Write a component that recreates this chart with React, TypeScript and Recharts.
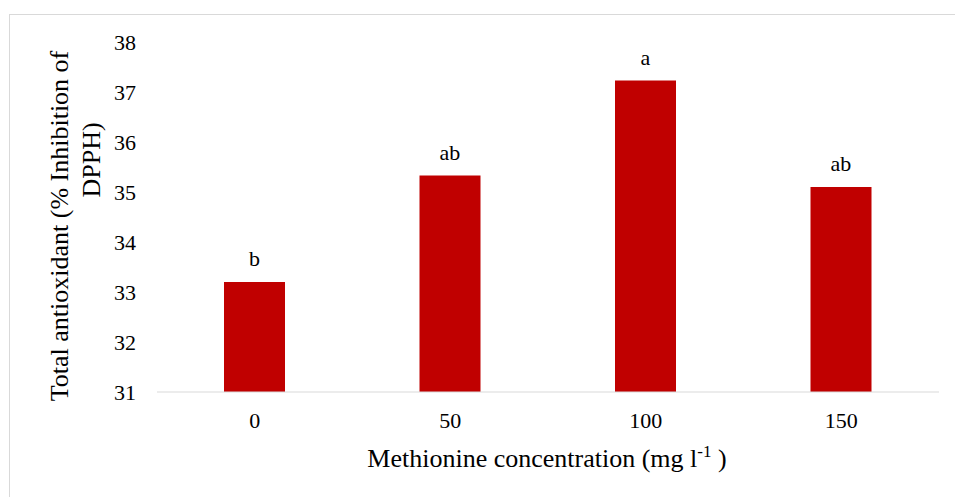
import { BarChart, Bar, XAxis, YAxis, LabelList } from 'recharts'

// ── Data ─────────────────────────────────────────────────
const concentrations = ['0', '50', '100', '150']
const antioxidant = [33.2, 35.33, 37.23, 35.1]
const letters = ['b', 'ab', 'a', 'ab']
const yTicks = [31, 32, 33, 34, 35, 36, 37, 38]

const data = concentrations.map((c, i) => ({
  conc: c,
  value: antioxidant[i],
  letter: letters[i],
}))

const FONT = '"Liberation Serif", "Times New Roman", serif'
const RED = '#c00000'
const GRID = '#d9d9d9'

function XTitle() {
  return (
    <text x={547} y={467} textAnchor="middle" fontFamily={FONT} fontSize={26} fill="#000">
      Methionine concentration (mg l
      <tspan fontSize={17} dy={-10}>-1</tspan>
      <tspan dy={10}> )</tspan>
    </text>
  )
}

function YTitle() {
  return (
    <g fontFamily={FONT} fontSize={26} fill="#000">
      <text x={0} y={0} textAnchor="middle" transform="translate(68 226) rotate(-90)">
        Total antioxidant (% Inhibition of
      </text>
      <text x={0} y={0} textAnchor="middle" transform="translate(100 160) rotate(-90)">
        DPPH)
      </text>
    </g>
  )
}

function XTick(props: any) {
  const { x, y, payload } = props
  return (
    <text x={x} y={y} dy={15} textAnchor="middle" fontFamily={FONT} fontSize={22} fill="#000">
      {payload.value}
    </text>
  )
}

function YTick(props: any) {
  const { x, y, payload } = props
  return (
    <text x={x} y={y} dy={7.5} textAnchor="end" fontFamily={FONT} fontSize={22} fill="#000">
      {payload.value}
    </text>
  )
}

function LetterLabel(props: any) {
  const { x, y, width, value } = props
  return (
    <text x={x + width / 2} y={y - 16} textAnchor="middle" fontFamily={FONT} fontSize={22} fill="#000">
      {value}
    </text>
  )
}

export default function App() {
  return (
    <div style={{ position: 'absolute', left: 0, top: 0, width: 955, height: 497, overflow: 'hidden', background: '#fff', fontFamily: FONT }}>
      <div style={{
        position: 'absolute', left: 9, top: 14, width: 960, height: 500,
        borderLeft: `1.5px solid ${GRID}`, borderTop: `1.5px solid ${GRID}`,
      }} />
      <div style={{ position: 'absolute', left: 0, top: 0 }}>
        <BarChart
          width={955}
          height={497}
          data={data}
          margin={{ top: 42, right: 16, left: 0, bottom: 75 }}
          barSize={61}
        >
          <XAxis
            dataKey="conc"
            height={30}
            axisLine={{ stroke: GRID, strokeWidth: 1 }}
            tickLine={false}
            tickMargin={15}
            tick={<XTick />}
            label={<XTitle />}
          />
          <YAxis
            width={157}
            domain={[31, 38]}
            ticks={yTicks}
            interval={0}
            axisLine={false}
            tickLine={false}
            tickMargin={15}
            tick={<YTick />}
            label={<YTitle />}
          />
          <Bar dataKey="value" fill={RED} isAnimationActive={false}>
            <LabelList dataKey="letter" content={<LetterLabel />} />
          </Bar>
        </BarChart>
      </div>
    </div>
  )
}
